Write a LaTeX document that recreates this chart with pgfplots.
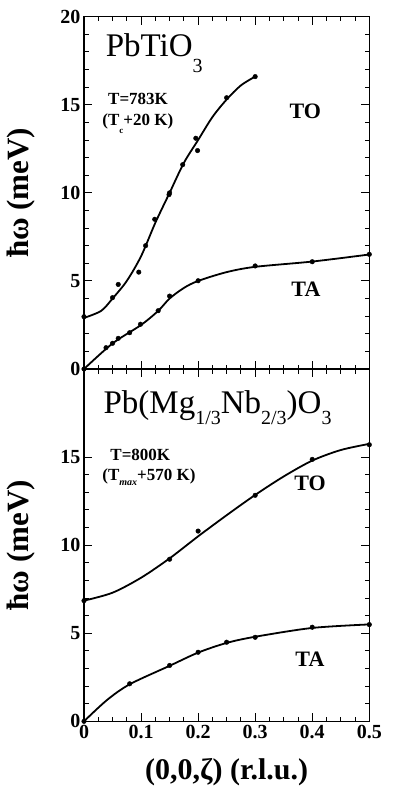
\documentclass[border=0pt]{standalone}
\usepackage{fontspec}
\setmainfont{Liberation Serif}
\usepackage{pgfplots}
\pgfplotsset{compat=1.18}
\newcommand\sub[2]{\raisebox{#1}{\fontsize{20}{20}\selectfont #2}}
\begin{document}
\begin{tikzpicture}
\path[use as bounding box] (0,0) rectangle (395pt,-802pt);
\pgfplotsset{
 panel/.style={
  width=285.3pt, height=352.3pt, scale only axis,
  xmin=0, xmax=0.5, ymin=0, ymax=20,
  xtick={0,0.1,0.2,0.3,0.4,0.5}, minor x tick num=3,
  minor y tick num=4,
  tick align=inside, xtick pos=both, ytick pos=both,
  major tick length=8pt, minor tick length=4.5pt,
  axis line style={line width=1.2pt},
  every tick/.append style={black, line width=0.9pt},
  tick label style={font=\fontsize{20}{20}\selectfont\bfseries},
  /pgf/number format/assume math mode=true,
  ylabel={ħω (meV)},
  ylabel style={font=\fontsize{31}{31}\selectfont\bfseries, at={(axis description cs:-0.221,0.5)}, anchor=center},
  clip=false,
 },
 fit/.style={no marks, smooth, line width=1.8pt, black},
 pts/.style={only marks, mark=*, mark size=2.3pt, black},
}
% ---------- top panel: PbTiO3 ----------
\begin{axis}[panel, at={(84pt,-16.7pt)}, anchor=north west,
  ytick={0,5,10,15,20}, xticklabels={{},{},{},{},{},{}}]
\addplot[fit] coordinates {(0,2.9)(0.03,3.3)(0.05,4.0)(0.075,5.0)(0.1,6.4)(0.125,8.3)(0.15,10.0)(0.175,11.7)(0.2,13.0)(0.225,14.3)(0.25,15.3)(0.275,16.1)(0.3,16.6)};
\addplot[pts] coordinates {(0,2.97)(0.05,4.05)(0.06,4.8)(0.096,5.5)(0.108,7.0)(0.124,8.5)(0.149,9.9)(0.15,10.0)(0.173,11.6)(0.196,13.1)(0.199,12.4)(0.25,15.4)(0.3,16.6)};
\addplot[fit] coordinates {(0,0)(0.05,1.45)(0.1,2.5)(0.13,3.3)(0.15,4.0)(0.175,4.6)(0.2,5.0)(0.25,5.5)(0.3,5.8)(0.4,6.1)(0.5,6.5)};
\addplot[pts] coordinates {(0,0)(0.0386,1.21)(0.05,1.46)(0.06,1.74)(0.08,2.06)(0.099,2.54)(0.13,3.31)(0.15,4.14)(0.2,5.01)(0.3,5.85)(0.4,6.09)(0.5,6.51)};
\node[anchor=base west, inner sep=0pt, font=\fontsize{33}{33}\selectfont] at (axis cs:0.038,17.74) {PbTiO\sub{-16pt}{3}};
\node[anchor=base west, inner sep=0pt, font=\fontsize{17}{17}\selectfont\bfseries] at (axis cs:0.042,15.0) {T=783K};
\node[anchor=base west, inner sep=0pt, font=\fontsize{17}{17}\selectfont\bfseries] at (axis cs:0.032,13.8) {(T\raisebox{-8pt}{\fontsize{9}{9}\selectfont c}+20 K)};
\node[font=\fontsize{22}{22}\selectfont\bfseries] at (axis cs:0.388,14.6) {TO};
\node[font=\fontsize{22}{22}\selectfont\bfseries] at (axis cs:0.389,4.55) {TA};
\end{axis}
% ---------- bottom panel: PMN ----------
\begin{axis}[panel, at={(84pt,-369pt)}, anchor=north west,
  ytick={0,5,10,15},
  xlabel={(0,0,ζ) (r.l.u.)},
  xlabel style={font=\fontsize{30}{30}\selectfont\bfseries, at={(axis description cs:0.5,-0.145)}, anchor=center}]
\addplot[fit] coordinates {(0,6.85)(0.05,7.3)(0.1,8.15)(0.15,9.25)(0.2,10.5)(0.25,11.7)(0.3,12.85)(0.35,13.9)(0.4,14.8)(0.45,15.4)(0.5,15.75)};
\addplot[pts] coordinates {(0,6.85)(0.15,9.2)(0.2,10.8)(0.3,12.83)(0.4,14.87)(0.5,15.7)};
\addplot[fit] coordinates {(0,0)(0.04,1.2)(0.08,2.1)(0.15,3.15)(0.2,3.9)(0.25,4.45)(0.3,4.8)(0.4,5.3)(0.5,5.5)};
\addplot[pts] coordinates {(0,0)(0.08,2.13)(0.15,3.17)(0.2,3.92)(0.25,4.49)(0.3,4.77)(0.4,5.34)(0.5,5.49)};
\node[anchor=base west, inner sep=0pt, font=\fontsize{33}{33}\selectfont] at (axis cs:0.034,17.5) {Pb(Mg\sub{-11pt}{1/3}Nb\sub{-11pt}{2/3})O\sub{-11pt}{3}};
\node[anchor=base west, inner sep=0pt, font=\fontsize{17}{17}\selectfont\bfseries] at (axis cs:0.046,14.8) {T=800K};
\node[anchor=base west, inner sep=0pt, font=\fontsize{17}{17}\selectfont\bfseries] at (axis cs:0.032,13.65) {(T\raisebox{-5pt}{\fontsize{10}{10}\selectfont\itshape max}+570 K)};
\node[font=\fontsize{22}{22}\selectfont\bfseries] at (axis cs:0.396,13.5) {TO};
\node[font=\fontsize{22}{22}\selectfont\bfseries] at (axis cs:0.396,3.5) {TA};
\end{axis}
\end{tikzpicture}
\end{document}
